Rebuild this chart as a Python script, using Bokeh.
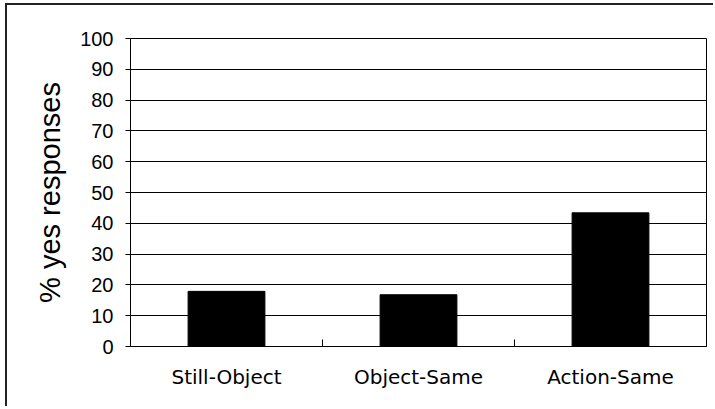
from bokeh.plotting import figure
from bokeh.models import FixedTicker, Range1d
from bokeh.embed import file_html
from bokeh.resources import INLINE

# Data
categories = ["Still-Object", "Object-Same", "Action-Same"]
values = [17.9, 16.8, 43.4]
y_ticks = list(range(0, 101, 10))
y_label = "% yes responses"

centers = [i + 0.5 for i in range(len(categories))]
boundaries = list(range(len(categories) + 1))

p = figure(width=708, height=403,
           x_range=Range1d(0, len(categories)), y_range=Range1d(0, 100),
           output_backend="svg", toolbar_location=None,
           min_border_left=123, min_border_right=9,
           min_border_top=33, min_border_bottom=62)

p.styles = {"margin-left": "5px", "margin-top": "3px",
            "border-left": "2px solid #222", "border-top": "2px solid #222"}

p.vbar(x=centers, top=values, width=0.4, fill_color="black", line_color="black")

# x axis
p.xaxis.ticker = FixedTicker(ticks=centers, minor_ticks=boundaries)
p.xaxis.major_label_overrides = {c: n for c, n in zip(centers, categories)}
p.xaxis.major_tick_line_color = None
p.xaxis.minor_tick_in = 7
p.xaxis.minor_tick_out = 0
p.xaxis.minor_tick_line_color = "black"
p.xaxis.axis_line_color = "black"
p.xaxis.major_label_text_font = "DejaVu Sans"
p.xaxis.major_label_text_font_size = "20px"
p.xaxis.major_label_text_color = "black"
p.xaxis.major_label_standoff = 12

# y axis
p.yaxis.ticker = FixedTicker(ticks=y_ticks)
p.yaxis.major_tick_out = 5
p.yaxis.major_tick_in = 0
p.yaxis.minor_tick_line_color = None
p.yaxis.major_tick_line_color = "black"
p.yaxis.axis_line_color = "black"
p.yaxis.major_label_text_font = "Liberation Sans"
p.yaxis.major_label_text_font_size = "20px"
p.yaxis.major_label_text_color = "black"
p.yaxis.major_label_standoff = 12
p.yaxis.axis_label = y_label
p.yaxis.axis_label_text_font = "Liberation Sans"
p.yaxis.axis_label_text_font_size = "29px"
p.yaxis.axis_label_text_font_style = "normal"
p.yaxis.axis_label_text_color = "black"
p.yaxis.axis_label_standoff = 11

# grid
p.xgrid.visible = False
p.ygrid.ticker = FixedTicker(ticks=y_ticks)
p.ygrid.grid_line_color = "black"
p.ygrid.grid_line_alpha = 1.0

p.outline_line_color = "black"
p.background_fill_color = "white"
p.border_fill_color = "white"

open("out.html", "w").write(file_html(p, INLINE))
